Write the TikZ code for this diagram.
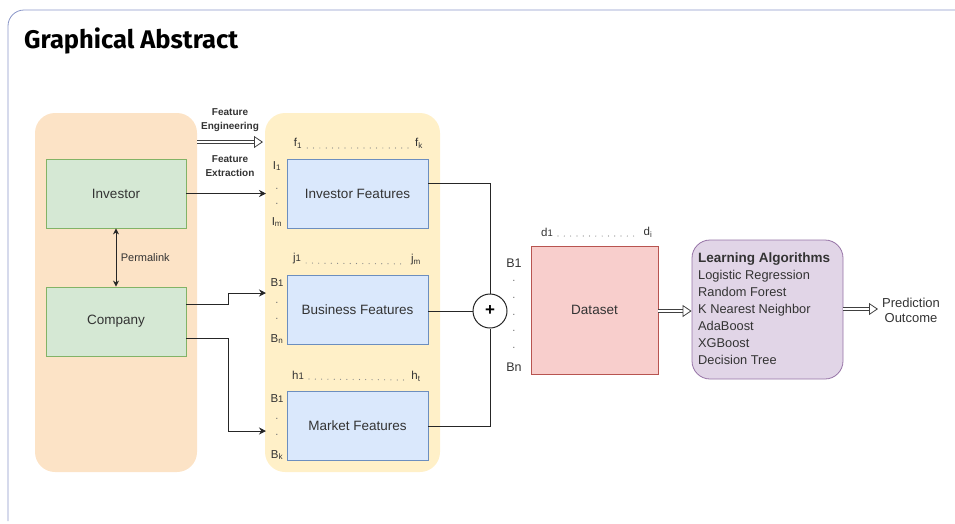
\documentclass[tikz,border=0pt]{standalone}
\usepackage{fontspec}
\setmainfont{Liberation Sans}
\newfontfamily\titlefont{Fira Sans}
\usetikzlibrary{arrows.meta}
\definecolor{frame}{HTML}{8A96C8}
\definecolor{orfill}{HTML}{FCE3C6}
\definecolor{yefill}{HTML}{FFF0C8}
\definecolor{grfill}{HTML}{D5E8D4}
\definecolor{grline}{HTML}{82B366}
\definecolor{blfill}{HTML}{DAE8FC}
\definecolor{blline}{HTML}{6C8EBF}
\definecolor{rdfill}{HTML}{F8CECC}
\definecolor{rdline}{HTML}{B85450}
\definecolor{pufill}{HTML}{E1D5E7}
\definecolor{puline}{HTML}{9673A6}
\definecolor{txt}{HTML}{333333}
\tikzset{
  fs/.style={font=\fontsize{#1}{#1}\selectfont},
  greenbox/.style={draw=grline, fill=grfill, minimum width=140pt, minimum height=69pt, fs=13.5, text=txt, line width=0.8pt},
  bluebox/.style={draw=blline, fill=blfill, minimum width=141pt, minimum height=69pt, fs=13.5, text=txt, line width=0.8pt},
  conn/.style={draw=black!85, line width=1pt},
  harrow/.style={double=white, draw=black!75, double distance=2.6pt, line width=0.8pt, -{Triangle[open, length=9pt, width=12pt]}},
  lab/.style={fs=11.5, text=txt, inner sep=0pt},
  vdot/.style={fs=11, text=txt!70, inner sep=0pt},
  dotrow/.style={draw=txt!60, line width=1.2pt, line cap=round, dash pattern=on 0pt off 6.3pt},
}
\begin{document}
\begin{tikzpicture}[x=1pt,y=-1pt]
\useasboundingbox (0,0) rectangle (955,523);
% frame
\draw[frame, line width=0.8pt] (8,521) -- (8,26) arc[start angle=180, end angle=270, radius=16] -- (955,10);
\node[anchor=west, inner sep=0pt, font=\titlefont\bfseries\fontsize{25.5}{27}\selectfont] (title) at (24,41) {Graphical Abstract};

% background groups
\fill[orfill, rounded corners=20pt] (35,113) rectangle (197,472);
\fill[yefill, rounded corners=20pt] (265,113) rectangle (440,472);

% left boxes
\node[greenbox] (inv) at (116,193.5) {Investor};
\node[greenbox] (comp) at (116,321.5) {Company};
\draw[conn, {Stealth[length=6pt,width=6pt]}-{Stealth[length=6pt,width=6pt]}] (inv.south) -- (comp.north) node[midway, right=1pt, fs=11, text=txt] (plink) {Permalink};

% feature boxes
\node[bluebox] (invf) at (357.5,193.5) {Investor Features};
\node[bluebox] (busf) at (357.5,309.5) {Business Features};
\node[bluebox] (mktf) at (357.5,425.5) {Market Features};

% feature labels
\node[lab] (f1) at (298,143) {f\textsubscript{1}};
\node[lab] (fk) at (419,143) {f\textsubscript{k}};
\draw[dotrow] ([xshift=5pt,yshift=-5pt]f1.east) -- ([xshift=-5pt,yshift=-5pt]fk.west);
\node[lab] (i1) at (277,166) {I\textsubscript{1}};
\node[vdot] (id1) at (277,189) {.};
\node[vdot] (id2) at (277,204) {.};
\node[lab] (im) at (277,222) {I\textsubscript{m}};

\node[lab] (j1) at (297,259) {j{\fontsize{9.5}{9.5}\selectfont 1}};
\node[lab] (jm) at (416,260) {j\textsubscript{m}};
\draw[dotrow] ([xshift=5pt,yshift=-4pt]j1.east) -- ([xshift=-5pt,yshift=-4pt]jm.west);
\node[lab] (bb1) at (277,283) {B{\fontsize{9.5}{9.5}\selectfont 1}};
\node[vdot] (bd1) at (277,303) {.};
\node[vdot] (bd2) at (277,319) {.};
\node[lab] (bbn) at (277,339) {B\textsubscript{n}};

\node[lab] (h1) at (298,375) {h{\fontsize{9.5}{9.5}\selectfont 1}};
\node[lab] (ht) at (416,376) {h\textsubscript{t}};
\draw[dotrow] ([xshift=5pt,yshift=-4pt]h1.east) -- ([xshift=-5pt,yshift=-4pt]ht.west);
\node[lab] (mb1) at (277,399) {B{\fontsize{9.5}{9.5}\selectfont 1}};
\node[vdot] (md1) at (277,419) {.};
\node[vdot] (md2) at (277,435) {.};
\node[lab] (mbk) at (277,455) {B\textsubscript{k}};

% feature engineering arrow
\coordinate (fe1) at (197,142);
\coordinate (fe2) at (263,142);
\draw[harrow] (fe1) -- (fe2);
\node[fs=11, font=\bfseries, align=center, inner sep=0pt, text=txt] (felab) at (230,120) {Feature\\[2.5pt]Engineering};
\node[fs=11, font=\bfseries, align=center, inner sep=0pt, text=txt] (fxlab) at (230,166) {Feature\\[2.5pt]Extraction};

% connectors left to features
\coordinate (invin) at (266,193.5);
\coordinate (busin) at (266,293);
\coordinate (mktin) at (266,431);
\draw[conn, -{Stealth[length=7pt,width=7pt]}] (inv.east) -- (invin);
\draw[conn, -{Stealth[length=7pt,width=7pt]}] (comp.east |- 0,304) -- (228,304) -- (228,293) -- (busin);
\draw[conn, -{Stealth[length=7pt,width=7pt]}] (comp.east |- 0,338) -- (228,338) -- (228,431) -- (mktin);

% plus circle
\node[draw=black!85, line width=1pt, circle, minimum size=34pt, inner sep=0pt, fill=white, font=\bfseries\fontsize{17}{17}\selectfont] (plus) at (490,311) {+};
\draw[conn] (invf.east |- 0,183) -- (490,183) -- (plus.north);
\draw[conn] (busf.east |- 0,311) -- (plus.west);
\draw[conn] (mktf.east |- 0,426) -- (490,426) -- (plus.south);

% dataset
\node[draw=rdline, fill=rdfill, minimum width=127pt, minimum height=128pt, line width=0.8pt, fs=13.5, text=txt] (data) at (594.5,310) {Dataset};
\node[lab] (d1) at (547,232) {d{\fontsize{9.5}{9.5}\selectfont 1}};
\node[lab] (di) at (648,232) {d\textsubscript{i}};
\draw[dotrow] ([xshift=5pt,yshift=-4pt]d1.east) -- ([xshift=-5pt,yshift=-4pt]di.west);
\node[fs=12.5, text=txt, inner sep=0pt] (db1) at (514,263) {B1};
\node[vdot] (dd1) at (514,281) {.};
\node[vdot] (dd2) at (514,298) {.};
\node[vdot] (dd3) at (514,315) {.};
\node[vdot] (dd4) at (514,331) {.};
\node[vdot] (dd5) at (514,348) {.};
\node[fs=12.5, text=txt, inner sep=0pt] (dbn) at (514,367) {Bn};

% learning algorithms
\node[draw=puline, fill=pufill, rounded corners=18pt, minimum width=151pt, minimum height=139pt, line width=0.8pt] (la) at (767.5,309.5) {};
\node[anchor=north west, align=left, inner sep=0pt, text=txt, fs=12.8] (latext) at (698,252.5) {{\bfseries\fontsize{13.5}{13.5}\selectfont Learning Algorithms}\\[4.6pt]Logistic Regression\\[4.2pt]Random Forest\\[4.2pt]K Nearest Neighbor\\[4.2pt]AdaBoost\\[4.2pt]XGBoost\\[4.2pt]Decision Tree};

\draw[harrow] (data.east |- 0,311) -- (la.west |- 0,311);
\coordinate (predin) at (878,309);
\draw[harrow] (la.east |- 0,309) -- (predin);
\node[fs=13, align=center, text=txt, inner sep=0pt] (pred) at (911,310) {Prediction\\[2pt]Outcome};
\end{tikzpicture}
\end{document}
